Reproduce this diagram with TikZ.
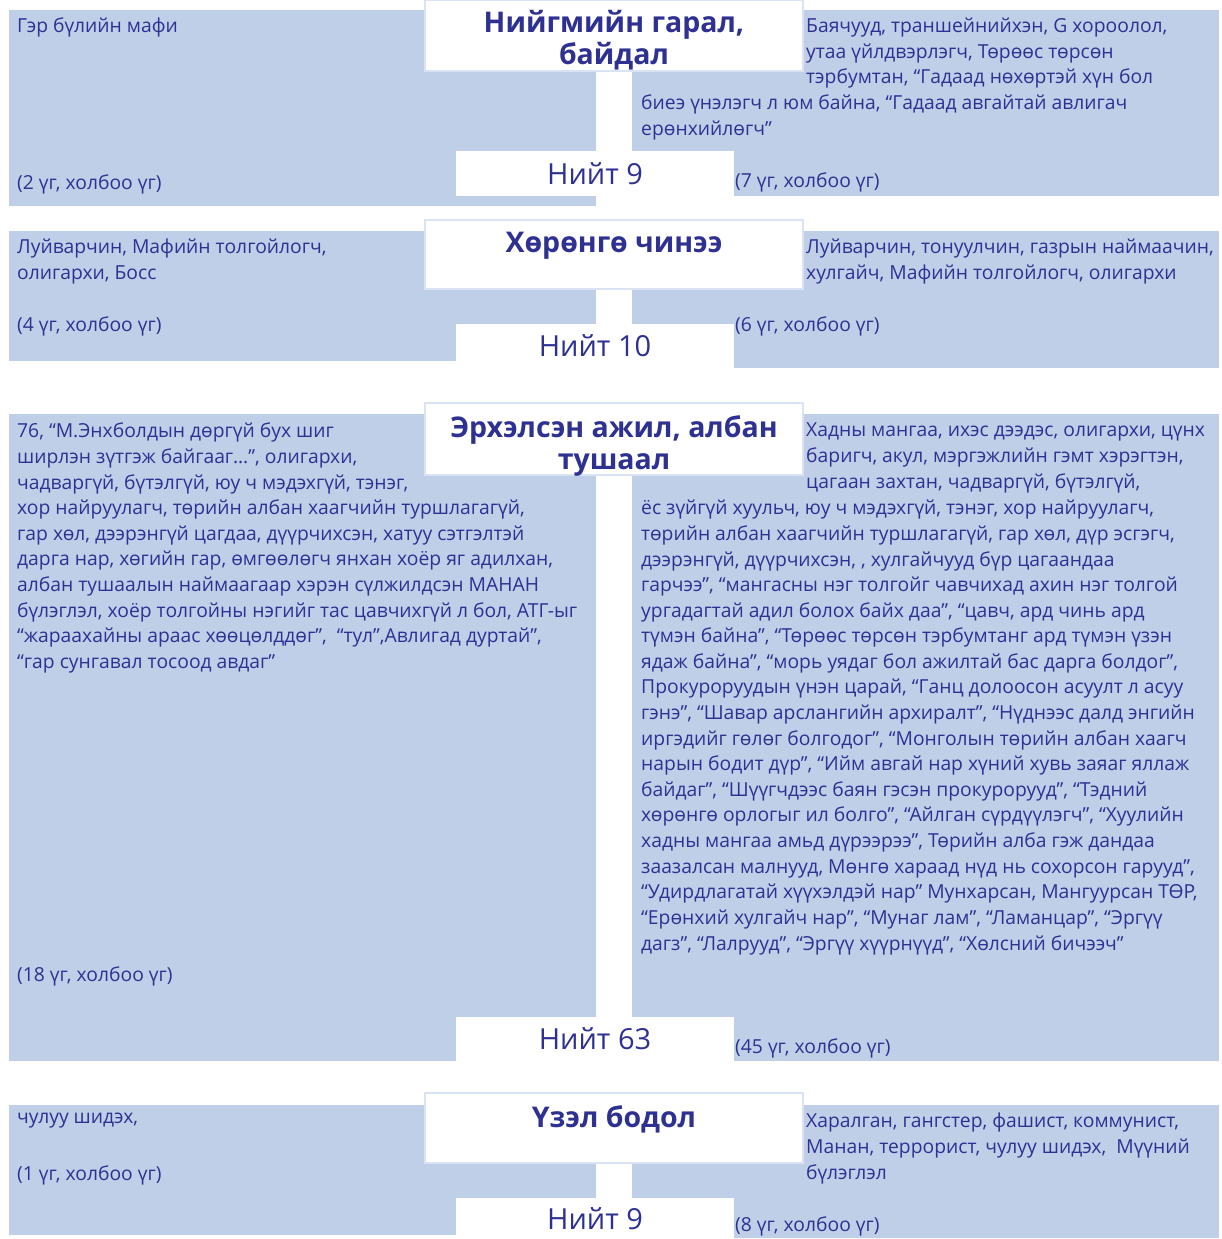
\documentclass[tikz,border=0pt]{standalone}
\usepackage{fontspec}
\setmainfont{Open Sans}
\usetikzlibrary{positioning}

\definecolor{panelblue}{RGB}{191,207,232}
\definecolor{inkblue}{RGB}{46,49,146}
\definecolor{rimblue}{RGB}{218,227,243}

\newcommand{\bodyfont}{\fontsize{19.3}{25.6}\selectfont}
\newcommand{\titlefont}{\fontsize{28.5}{32}\selectfont\bfseries}
\newcommand{\totalfont}{\fontsize{29}{32}\selectfont}

\pgfdeclarelayer{background}
\pgfsetlayers{background,main}

\begin{document}
\begin{tikzpicture}[x=1pt, y=-1pt,
    panel/.style={fill=panelblue},
    stem/.style={white, line width=36pt},
    titlebox/.style={draw=rimblue, line width=2pt, fill=white, minimum width=378pt, inner sep=0pt},
    titletext/.style={font=\titlefont, text=inkblue, align=center, inner sep=0pt},
    totalbox/.style={fill=white, minimum width=278pt, inner sep=0pt, font=\totalfont, text=inkblue},
    bodytext/.style={font=\bodyfont, text=inkblue, align=left, inner sep=0pt, anchor=north west}]

    \useasboundingbox (0,0) rectangle (1221,1239);

    % social origin
    \node[titlebox, minimum height=71pt] (t1) at (614,35.5) {};
    \node[titletext, below=11pt of t1.north] (tt1) {Нийгмийн гарал,\\байдал};
    \node[totalbox, minimum height=45pt] (n1) at (595,173.5) {Нийт 9};
    \node[bodytext] (l1) at (17,18) {Гэр бүлийн мафи};
    \node[bodytext] (lc1) at (17,175) {(2 үг, холбоо үг)};
    \node[bodytext] (r1) at (806,18) {Баячууд, траншейнийхэн, G хороолол,\\утаа үйлдвэрлэгч, Төрөөс төрсөн\\тэрбумтан, “Гадаад нөхөртэй хүн бол};
    \node[bodytext] (r1b) at (641,95) {биеэ үнэлэгч л юм байна, “Гадаад авгайтай авлигач\\ерөнхийлөгч”};
    \node[bodytext] (rc1) at (735,173) {(7 үг, холбоо үг)};
    \begin{pgfonlayer}{background}
        \fill[panel] (9,10) rectangle (596,206);
        \fill[panel] (632,10) rectangle (1219,196);
        \draw[stem] (t1.south) -- (t1.south |- n1.north);
    \end{pgfonlayer}

    % wealth
    \node[titlebox, minimum height=69pt] (t2) at (614,254.5) {};
    \node[titletext, below=13pt of t2.north] (tt2) {Хөрөнгө чинээ};
    \node[totalbox, minimum height=44pt] (n2) at (595,346) {Нийт 10};
    \node[bodytext] (l2) at (17,239) {Луйварчин, Мафийн толгойлогч,\\олигархи, Босс};
    \node[bodytext] (lc2) at (17,317) {(4 үг, холбоо үг)};
    \node[bodytext] (r2) at (806,239) {Луйварчин, тонуулчин, газрын наймаачин,\\хулгайч, Мафийн толгойлогч, олигархи};
    \node[bodytext] (rc2) at (735,317) {(6 үг, холбоо үг)};
    \begin{pgfonlayer}{background}
        \fill[panel] (9,231) rectangle (596,361);
        \fill[panel] (632,231) rectangle (1219,368);
        \draw[stem] (t2.south) -- (t2.south |- n2.north);
    \end{pgfonlayer}

    % occupation, position
    \node[titlebox, minimum height=72pt] (t3) at (614,439) {};
    \node[titletext, below=13pt of t3.north] (tt3) {Эрхэлсэн ажил, албан\\тушаал};
    \node[totalbox, minimum height=44pt] (n3) at (595,1039) {Нийт 63};
    \node[bodytext] (l3) at (17,423) {76, “М.Энхболдын дөргүй бух шиг\\
        ширлэн зүтгэж байгааг…”, олигархи,\\
        чадваргүй, бүтэлгүй, юу ч мэдэхгүй, тэнэг,\\
        хор найруулагч, төрийн албан хаагчийн туршлагагүй,\\
        гар хөл, дээрэнгүй цагдаа, дүүрчихсэн, хатуу сэтгэлтэй\\
        дарга нар, хөгийн гар, өмгөөлөгч янхан хоёр яг адилхан,\\
        албан тушаалын наймаагаар хэрэн сүлжилдсэн МАНАН\\
        бүлэглэл, хоёр толгойны нэгийг тас цавчихгүй л бол, АТГ-ыг\\
        “жараахайны араас хөөцөлддөг”, \ “тул”,Авлигад дуртай”,\\
        “гар сунгавал тосоод авдаг”};
    \node[bodytext] (lc3) at (17,967) {(18 үг, холбоо үг)};
    \node[bodytext] (r3) at (806,423) {Хадны мангаа, ихэс дээдэс, олигархи, цүнх\\
        баригч, акул, мэргэжлийн гэмт хэрэгтэн,\\
        цагаан захтан, чадваргүй, бүтэлгүй,};
    \node[bodytext] (r3b) at (641,500) {ёс зүйгүй хуульч, юу ч мэдэхгүй, тэнэг, хор найруулагч,\\
        төрийн албан хаагчийн туршлагагүй, гар хөл, дүр эсгэгч,\\
        дээрэнгүй, дүүрчихсэн, , хулгайчууд бүр цагаандаа\\
        гарчээ”, “мангасны нэг толгойг чавчихад ахин нэг толгой\\
        ургадагтай адил болох байх даа”, “цавч, ард чинь ард\\
        түмэн байна”, “Төрөөс төрсөн тэрбумтанг ард түмэн үзэн\\
        ядаж байна”, “морь уядаг бол ажилтай бас дарга болдог”,\\
        Прокуроруудын үнэн царай, “Ганц долоосон асуулт л асуу\\
        гэнэ”, “Шавар арслангийн архиралт”, “Нүднээс далд энгийн\\
        иргэдийг гөлөг болгодог”, “Монголын төрийн албан хаагч\\
        нарын бодит дүр”, “Ийм авгай нар хүний хувь заяаг яллаж\\
        байдаг”, “Шүүгчдээс баян гэсэн прокурорууд”, “Тэдний\\
        хөрөнгө орлогыг ил болго”, “Айлган сүрдүүлэгч”, “Хуулийн\\
        хадны мангаа амьд дүрээрээ”, Төрийн алба гэж дандаа\\
        заазалсан малнууд, Мөнгө хараад нүд нь сохорсон гарууд”,\\
        “Удирдлагатай хүүхэлдэй нар” Мунхарсан, Мангуурсан ТӨР,\\
        “Ерөнхий хулгайч нар”, “Мунаг лам”, “Ламанцар”, “Эргүү\\
        дагз”, “Лалрууд”, “Эргүү хүүрнүүд”, “Хөлсний бичээч”};
    \node[bodytext] (rc3) at (735,1039) {(45 үг, холбоо үг)};
    \begin{pgfonlayer}{background}
        \fill[panel] (9,414) rectangle (596,1061);
        \fill[panel] (632,414) rectangle (1219,1061);
        \draw[stem] (t3.south) -- (t3.south |- n3.north);
    \end{pgfonlayer}

    % views
    \node[titlebox, minimum height=70pt] (t4) at (614,1128) {};
    \node[titletext, below=13pt of t4.north] (tt4) {Үзэл бодол};
    \node[totalbox, minimum height=41pt] (n4) at (595,1218.5) {Нийт 9};
    \node[bodytext] (l4) at (17,1113) {чулуу шидэх,};
    \node[bodytext] (lc4) at (17,1165) {(1 үг, холбоо үг)};
    \node[bodytext] (r4) at (806,1113) {Харалган, гангстер, фашист, коммунист,\\
        Манан, террорист, чулуу шидэх, \ Мүүний\\
        бүлэглэл};
    \node[bodytext] (rc4) at (735,1216) {(8 үг, холбоо үг)};
    \begin{pgfonlayer}{background}
        \fill[panel] (9,1105) rectangle (596,1235);
        \fill[panel] (632,1105) rectangle (1219,1238);
        \draw[stem] (t4.south) -- (t4.south |- n4.north);
    \end{pgfonlayer}

\end{tikzpicture}
\end{document}
